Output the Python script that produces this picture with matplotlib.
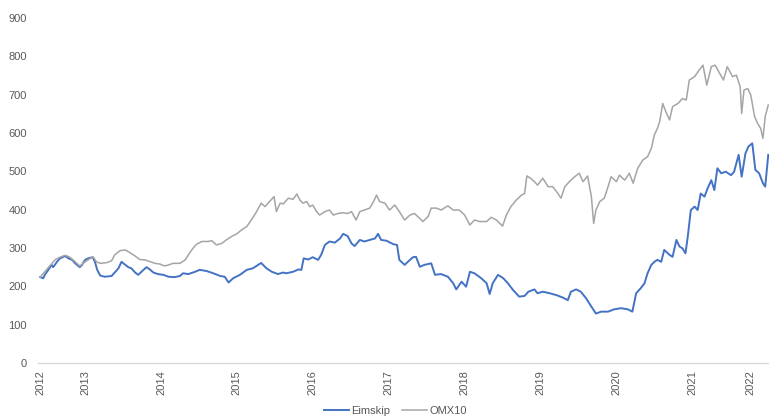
import matplotlib
matplotlib.use('Agg')
import matplotlib.pyplot as plt

# Eimskip vs OMX10 (x in fractional years)
eim_t = [2012.41, 2012.45, 2012.47, 2012.52, 2012.56, 2012.58, 2012.63, 2012.67, 2012.74, 2012.78,
         2012.83, 2012.87, 2012.93, 2012.96, 2013.00, 2013.04, 2013.10, 2013.13, 2013.16, 2013.20,
         2013.26, 2013.35, 2013.39, 2013.44, 2013.48, 2013.53, 2013.57, 2013.61, 2013.66, 2013.70,
         2013.77, 2013.81, 2013.86, 2013.90, 2013.96, 2014.03, 2014.10, 2014.18, 2014.25, 2014.29,
         2014.36, 2014.45, 2014.51, 2014.60, 2014.69, 2014.78, 2014.84, 2014.89, 2014.95, 2015.04,
         2015.13, 2015.21, 2015.32, 2015.39, 2015.46, 2015.54, 2015.61, 2015.65, 2015.74, 2015.81,
         2015.85, 2015.88, 2015.94, 2016.00, 2016.07, 2016.11, 2016.16, 2016.22, 2016.29, 2016.36,
         2016.40, 2016.46, 2016.51, 2016.55, 2016.62, 2016.68, 2016.75, 2016.82, 2016.86, 2016.90,
         2016.97, 2017.06, 2017.11, 2017.14, 2017.21, 2017.28, 2017.32, 2017.36, 2017.41, 2017.47,
         2017.56, 2017.61, 2017.69, 2017.78, 2017.85, 2017.89, 2017.96, 2018.02, 2018.07, 2018.13,
         2018.22, 2018.29, 2018.33, 2018.37, 2018.44, 2018.51, 2018.57, 2018.64, 2018.72, 2018.79,
         2018.84, 2018.92, 2018.96, 2019.03, 2019.12, 2019.21, 2019.29, 2019.36, 2019.40, 2019.47,
         2019.53, 2019.60, 2019.67, 2019.73, 2019.80, 2019.89, 2019.97, 2020.06, 2020.15, 2020.21,
         2020.26, 2020.32, 2020.37, 2020.41, 2020.46, 2020.50, 2020.54, 2020.59, 2020.63, 2020.70,
         2020.74, 2020.79, 2020.83, 2020.87, 2020.91, 2020.94, 2020.98, 2021.03, 2021.07, 2021.11,
         2021.16, 2021.20, 2021.25, 2021.29, 2021.33, 2021.38, 2021.44, 2021.51, 2021.55, 2021.61,
         2021.65, 2021.70, 2021.74, 2021.79, 2021.83, 2021.88, 2021.93, 2021.96, 2022.00]
eimskip = [224, 221, 230, 244, 256, 250, 264, 273, 279, 273,
           269, 260, 250, 256, 269, 273, 276, 264, 243, 228,
           225, 227, 236, 247, 264, 256, 250, 247, 236, 230,
           243, 250, 243, 236, 232, 230, 225, 224, 227, 234,
           232, 238, 243, 240, 234, 227, 225, 210, 221, 230,
           243, 247, 261, 247, 238, 232, 236, 234, 238, 244,
           243, 273, 270, 276, 269, 282, 308, 317, 314, 325,
           337, 331, 312, 305, 321, 317, 321, 325, 337, 321,
           319, 310, 308, 269, 256, 269, 276, 277, 251, 256,
           260, 230, 232, 225, 208, 192, 212, 199, 238, 234,
           221, 208, 180, 208, 230, 221, 208, 190, 173, 175,
           186, 192, 182, 186, 182, 177, 171, 164, 186, 192,
           186, 169, 147, 129, 134, 134, 140, 143, 140, 134,
           182, 195, 208, 234, 256, 264, 269, 264, 295, 282,
           277, 321, 304, 299, 286, 330, 399, 408, 399, 442,
           434, 455, 477, 451, 508, 495, 499, 490, 499, 543,
           486, 547, 565, 573, 504, 495, 469, 460, 543]

omx_t = [2012.41, 2012.52, 2012.61, 2012.67, 2012.74, 2012.80, 2012.87, 2012.93, 2013.00, 2013.07,
         2013.11, 2013.15, 2013.20, 2013.29, 2013.35, 2013.39, 2013.46, 2013.53, 2013.59, 2013.66,
         2013.72, 2013.79, 2013.86, 2013.92, 2013.99, 2014.03, 2014.07, 2014.16, 2014.25, 2014.32,
         2014.36, 2014.42, 2014.47, 2014.54, 2014.62, 2014.67, 2014.73, 2014.80, 2014.86, 2014.93,
         2015.00, 2015.06, 2015.13, 2015.19, 2015.26, 2015.32, 2015.37, 2015.43, 2015.49, 2015.52,
         2015.57, 2015.61, 2015.68, 2015.74, 2015.79, 2015.83, 2015.87, 2015.92, 2015.96, 2016.00,
         2016.05, 2016.09, 2016.16, 2016.22, 2016.27, 2016.33, 2016.40, 2016.46, 2016.51, 2016.57,
         2016.62, 2016.68, 2016.75, 2016.80, 2016.84, 2016.88, 2016.95, 2017.01, 2017.08, 2017.14,
         2017.21, 2017.28, 2017.34, 2017.41, 2017.45, 2017.52, 2017.56, 2017.63, 2017.69, 2017.78,
         2017.85, 2017.93, 2018.00, 2018.07, 2018.13, 2018.20, 2018.29, 2018.35, 2018.42, 2018.50,
         2018.55, 2018.61, 2018.68, 2018.75, 2018.79, 2018.82, 2018.87, 2018.92, 2018.96, 2019.03,
         2019.10, 2019.16, 2019.23, 2019.27, 2019.32, 2019.38, 2019.45, 2019.51, 2019.56, 2019.62,
         2019.67, 2019.70, 2019.73, 2019.78, 2019.84, 2019.89, 2019.93, 2020.00, 2020.04, 2020.11,
         2020.17, 2020.22, 2020.28, 2020.35, 2020.41, 2020.46, 2020.50, 2020.54, 2020.57, 2020.61,
         2020.65, 2020.70, 2020.74, 2020.81, 2020.87, 2020.92, 2020.96, 2021.03, 2021.09, 2021.14,
         2021.19, 2021.25, 2021.30, 2021.36, 2021.41, 2021.46, 2021.53, 2021.58, 2021.63, 2021.65,
         2021.68, 2021.73, 2021.77, 2021.82, 2021.86, 2021.90, 2021.93, 2021.96, 2022.00]
omx10 = [224, 250, 270, 276, 281, 276, 264, 253, 264, 273,
         276, 264, 260, 262, 267, 282, 293, 295, 288, 279,
         270, 269, 264, 260, 258, 254, 254, 260, 260, 269,
         282, 299, 310, 317, 317, 319, 308, 312, 321, 330,
         337, 347, 356, 373, 395, 417, 408, 421, 434, 395,
         417, 415, 430, 427, 441, 425, 417, 421, 408, 412,
         395, 386, 395, 399, 386, 390, 392, 390, 395, 373,
         395, 399, 404, 421, 438, 421, 417, 399, 412, 395,
         373, 386, 390, 377, 369, 382, 404, 404, 399, 410,
         399, 399, 386, 360, 373, 369, 369, 380, 373, 357,
         386, 408, 425, 438, 442, 488, 482, 473, 464, 482,
         460, 460, 442, 430, 460, 473, 486, 495, 473, 488,
         434, 364, 399, 421, 430, 460, 486, 473, 490, 477,
         495, 469, 508, 530, 538, 560, 595, 612, 630, 677,
         656, 634, 669, 677, 690, 686, 738, 747, 764, 777,
         725, 773, 777, 756, 738, 773, 747, 751, 721, 651,
         712, 716, 699, 643, 625, 612, 586, 643, 673]

# year labels sit where the reference shows them (first and last are shifted)
year_labels = ['2012', '2013', '2014', '2015', '2016', '2017', '2018', '2019', '2020', '2021', '2022']
year_pos = [2012.41, 2013.0, 2014.0, 2015.0, 2016.0, 2017.0, 2018.0, 2019.0, 2020.0, 2021.0, 2021.76]

plt.rcParams['font.family'] = ['Liberation Sans', 'DejaVu Sans']

fig = plt.figure(figsize=(7.69, 4.17), dpi=100)
ax = fig.add_axes([38 / 769, 1 - 363 / 417, 1 - 38 / 769, (363 - 18) / 417])

ax.plot(eim_t, eimskip, color='#4472C4', lw=1.4, label='Eimskip')
ax.plot(omx_t, omx10, color='#A5A5A5', lw=1.1, label='OMX10')

ax.set_ylim(0, 900)
ax.set_xlim(2012.38, 2022.01)
ax.set_yticks(range(0, 901, 100))
ax.set_xticks(year_pos)
ax.set_xticklabels(year_labels, rotation=90)
ax.tick_params(axis='both', length=0, labelsize=8, labelcolor='#595959')
ax.tick_params(axis='y', pad=8)
ax.tick_params(axis='x', pad=5)

for side in ['top', 'right', 'left']:
    ax.spines[side].set_visible(False)
ax.spines['bottom'].set_color('#D9D9D9')
ax.spines['bottom'].set_linewidth(1.0)

fig.legend(loc='center', bbox_to_anchor=(0.514, 6 / 417), ncol=2, frameon=False,
           fontsize=8, labelcolor='#595959', handlelength=2.25, handletextpad=0.2,
           columnspacing=1.1)

fig.savefig('out.png', dpi=100)
